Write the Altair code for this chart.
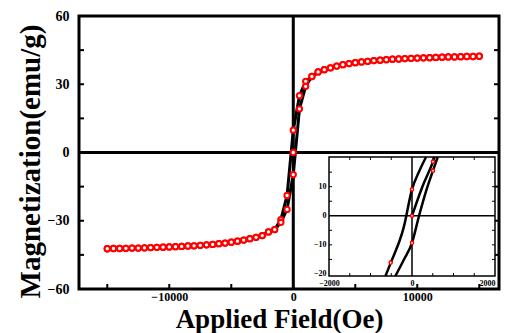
import altair as alt
import pandas as pd

FONT = "Liberation Serif"

# ---------------- main loop data ----------------
H_high_pos = [1500, 2000, 2500, 3000, 3500, 4000, 4500, 5000, 5500, 6000, 6500, 7000,
              7500, 8000, 8500, 9000, 9500, 10000, 10500, 11000, 11500, 12000, 12500,
              13000, 13500, 14000, 14500, 15000]
M_high_pos = [33.4, 35.4, 36.4, 37.2, 38.0, 38.6, 39.1, 39.5, 39.8, 40.1, 40.4, 40.6,
              40.8, 41.0, 41.1, 41.3, 41.4, 41.5, 41.6, 41.7, 41.8, 41.9, 42.0,
              42.0, 42.1, 42.2, 42.2, 42.3]
H_high_neg = [-1500, -2000, -2500, -3000, -3500, -4000, -4500, -5000, -5500, -6000, -6500,
              -7000, -7500, -8000, -8500, -9000, -9500, -10000, -10500, -11000, -11500,
              -12000, -12500, -13000, -13500, -14000, -14500, -15000]
M_high_neg = [-33.9, -34.9, -36.5, -37.3, -37.9, -38.5, -39.0, -39.4, -39.8, -40.1, -40.4,
              -40.6, -40.8, -41.0, -41.1, -41.3, -41.4, -41.5, -41.6, -41.7, -41.8,
              -41.9, -42.0, -42.0, -42.1, -42.2, -42.2, -42.3]
H_desc_core = [1000, 500, 0, -500, -1000]
M_desc_core = [31.3, 25.0, 9.8, -18.9, -29.5]
H_asc_core = [-1000, -500, 0, 500, 1000]
M_asc_core = [-30.7, -25.0, -9.7, 19.2, 29.1]
H_virgin = [0]
M_virgin = [0.0]

# ---------------- inset data ----------------
Hi_desc = [-640, -510, -200, 0, 180, 340]
Mi_desc = [-20.7, -16.1, -4.0, 9.1, 15.5, 20.2]
Hi_asc = [-400, -200, 0, 170, 350, 506, 620]
Mi_asc = [-20.7, -15.2, -9.3, 0.0, 9.0, 15.5, 20.2]
Hi_virgin = [0, 250, 506, 545]
Mi_virgin = [0.0, 10.0, 18.6, 20.2]
Hi_pts = [506, 506, 0, 0, 0, -513]
Mi_pts = [18.6, 15.5, 9.1, 0.0, -9.3, -16.1]

# ticks / labels
x_labels = [-10000, 0, 10000]
x_ticks = [-15000, -10000, -5000, 0, 5000, 10000, 15000]
y_labels = [-60, -30, 0, 30, 60]
y_ticks = [-45, -30, -15, 0, 15, 30, 45]
xi_labels = [-2000, 0, 2000]
yi_labels = [-20, -10, 0, 10]
xi_ticks = [-1500, -1000, -500, 500, 1000, 1500]
yi_ticks = [-15, -10, -5, 5, 10, 15]

X_DOM = [-17280, 16590]
Y_DOM = [-60, 60]
XI_DOM = [-2000, 2000]
YI_DOM = [-20.7, 20.2]

# ---------------- frames ----------------
desc_H = H_high_pos[::-1] + H_desc_core + H_high_neg
desc_M = M_high_pos[::-1] + M_desc_core + M_high_neg
asc_H = H_high_neg[::-1] + H_asc_core + H_high_pos
asc_M = M_high_neg[::-1] + M_asc_core + M_high_pos

line_df = pd.DataFrame({
    "H": desc_H + asc_H,
    "M": desc_M + asc_M,
    "branch": ["desc"] * len(desc_H) + ["asc"] * len(asc_H),
})
pts_df = pd.DataFrame({"H": desc_H + asc_H + H_virgin, "M": desc_M + asc_M + M_virgin})

inset_line_df = pd.DataFrame({
    "H": Hi_desc + Hi_asc + Hi_virgin,
    "M": Mi_desc + Mi_asc + Mi_virgin,
    "branch": ["desc"] * len(Hi_desc) + ["asc"] * len(Hi_asc) + ["virgin"] * len(Hi_virgin),
})
inset_pts_df = pd.DataFrame({"H": Hi_pts, "M": Mi_pts})


def xs():
    return alt.Scale(domain=X_DOM, nice=False, zero=False)


def ys():
    return alt.Scale(domain=Y_DOM, nice=False, zero=False)


def xis():
    return alt.Scale(domain=XI_DOM, range=[250, 416], nice=False, zero=False)


def yis():
    return alt.Scale(domain=YI_DOM, range=[260, 141], nice=False, zero=False)


axis_x = alt.Axis(values=x_labels, format="d", title="Applied Field(Oe)", grid=False,
                  ticks=False, domain=False, labelFont=FONT, labelFontSize=12,
                  labelFontWeight="bold", labelColor="black", labelPadding=2,
                  labelFlush=False, titleFont=FONT, titleFontSize=27, titleFontWeight="bold",
                  titleColor="black", titleX=200, titleY=38, titleBaseline="alphabetic")
axis_y = alt.Axis(values=y_labels, format="d", title="Magnetization(emu/g)", grid=False,
                  ticks=False, domain=False, labelFont=FONT, labelFontSize=14,
                  labelFontWeight="bold", labelColor="black", labelPadding=10,
                  titleFont=FONT, titleFontSize=29, titleFontWeight="bold",
                  titleColor="black", titleX=-40, titleY=145, titleAngle=270,
                  titleBaseline="alphabetic")
axis_xi = alt.Axis(orient="bottom", offset=-13, values=xi_labels, format="d", grid=False,
                   ticks=False, domain=False, labelFont=FONT, labelFontSize=8,
                   labelFontWeight="bold", labelColor="black", labelPadding=3,
                   labelFlush=False, title=None, zindex=1,
                   labelAlign={"condition": {"test": "datum.value >= 2000", "value": "right"},
                               "value": "center"})
axis_yi = alt.Axis(orient="left", offset=-250, values=yi_labels, format="d", grid=False,
                   ticks=False, domain=False, labelFont=FONT, labelFontSize=8,
                   labelFontWeight="bold", labelColor="black", labelPadding=3,
                   labelFlush=False, title=None, zindex=1)

# ---------------- main layers ----------------
main_lines = alt.Chart(line_df).mark_line(color="black", strokeWidth=3).encode(
    x=alt.X("H:Q", scale=xs(), axis=axis_x),
    y=alt.Y("M:Q", scale=ys(), axis=axis_y),
    detail="branch:N",
)
zero_df = pd.DataFrame({"v": [0]})
vrule = alt.Chart(zero_df).mark_rule(color="black", strokeWidth=3).encode(
    x=alt.X("v:Q", scale=xs(), axis=None))
hrule = alt.Chart(zero_df).mark_rule(color="black", strokeWidth=3).encode(
    y=alt.Y("v:Q", scale=ys(), axis=None))
main_pts = alt.Chart(pts_df).mark_point(shape="circle", filled=True, fill="white",
                                        stroke="#ff0000", size=28, strokeWidth=2,
                                        opacity=1, fillOpacity=1).encode(
    x=alt.X("H:Q", scale=xs(), axis=None),
    y=alt.Y("M:Q", scale=ys(), axis=None),
)
yt_df = pd.DataFrame({"t": y_ticks, "lo": X_DOM[0], "hi": X_DOM[1]})
xt_df = pd.DataFrame({"t": x_ticks, "lo": Y_DOM[0]})
ytick_l = alt.Chart(yt_df).mark_tick(orient="horizontal", size=5, thickness=2, xOffset=2.5,
                                     color="black", opacity=1).encode(
    y=alt.Y("t:Q", scale=ys(), axis=None), x=alt.X("lo:Q", scale=xs(), axis=None))
ytick_r = alt.Chart(yt_df).mark_tick(orient="horizontal", size=5, thickness=2, xOffset=-2.5,
                                     color="black", opacity=1).encode(
    y=alt.Y("t:Q", scale=ys(), axis=None), x=alt.X("hi:Q", scale=xs(), axis=None))
xtick_b = alt.Chart(xt_df).mark_tick(orient="vertical", size=5, thickness=2, yOffset=-2.5,
                                     color="black", opacity=1).encode(
    x=alt.X("t:Q", scale=xs(), axis=None), y=alt.Y("lo:Q", scale=ys(), axis=None))

# ---------------- inset layers ----------------
box_df = pd.DataFrame({"x0": [XI_DOM[0]], "x1": [XI_DOM[1]], "y0": [YI_DOM[0]],
                       "y1": [YI_DOM[1]], "z": [0]})
box = alt.Chart(box_df).mark_rect(fill="white", stroke="black", strokeWidth=1.5).encode(
    x=alt.X("x0:Q", scale=xis(), axis=axis_xi), x2="x1",
    y=alt.Y("y0:Q", scale=yis(), axis=axis_yi), y2="y1",
)
ivrule = alt.Chart(box_df).mark_rule(color="black", strokeWidth=1.5).encode(
    x=alt.X("z:Q", scale=xis(), axis=None),
    y=alt.Y("y0:Q", scale=yis(), axis=None), y2="y1")
ihrule = alt.Chart(box_df).mark_rule(color="black", strokeWidth=1.5).encode(
    y=alt.Y("z:Q", scale=yis(), axis=None),
    x=alt.X("x0:Q", scale=xis(), axis=None), x2="x1")
inset_lines = alt.Chart(inset_line_df).mark_line(color="black", strokeWidth=2.5,
                                                 interpolate="monotone").encode(
    x=alt.X("H:Q", scale=xis(), axis=None),
    y=alt.Y("M:Q", scale=yis(), axis=None),
    detail="branch:N",
)
inset_pts = alt.Chart(inset_pts_df).mark_point(shape="circle", filled=True, fill="white",
                                               stroke="#ff0000", size=10, strokeWidth=1.5,
                                               opacity=1, fillOpacity=1).encode(
    x=alt.X("H:Q", scale=xis(), axis=None),
    y=alt.Y("M:Q", scale=yis(), axis=None),
)
yit_df = pd.DataFrame({"t": yi_ticks, "lo": XI_DOM[0], "hi": XI_DOM[1]})
xit_df = pd.DataFrame({"t": xi_ticks, "lo": YI_DOM[0], "hi": YI_DOM[1]})
yitick_l = alt.Chart(yit_df).mark_tick(orient="horizontal", size=3, thickness=1, xOffset=1.5,
                                       color="black", opacity=1).encode(
    y=alt.Y("t:Q", scale=yis(), axis=None), x=alt.X("lo:Q", scale=xis(), axis=None))
yitick_r = alt.Chart(yit_df).mark_tick(orient="horizontal", size=3, thickness=1, xOffset=-1.5,
                                       color="black", opacity=1).encode(
    y=alt.Y("t:Q", scale=yis(), axis=None), x=alt.X("hi:Q", scale=xis(), axis=None))
xitick_b = alt.Chart(xit_df).mark_tick(orient="vertical", size=3, thickness=1, yOffset=-1.5,
                                       color="black", opacity=1).encode(
    x=alt.X("t:Q", scale=xis(), axis=None), y=alt.Y("lo:Q", scale=yis(), axis=None))
xitick_t = alt.Chart(xit_df).mark_tick(orient="vertical", size=3, thickness=1, yOffset=1.5,
                                       color="black", opacity=1).encode(
    x=alt.X("t:Q", scale=xis(), axis=None), y=alt.Y("hi:Q", scale=yis(), axis=None))

chart = alt.layer(
    main_lines, vrule, hrule, main_pts, ytick_l, ytick_r, xtick_b,
    box, yitick_l, yitick_r, xitick_b, xitick_t, ivrule, ihrule, inset_lines, inset_pts,
).resolve_scale(x="independent", y="independent").properties(
    width=420, height=273,
    padding={"left": 71, "top": 8, "right": 2, "bottom": 45},
    autosize=alt.AutoSizeParams(type="none"),
    background="white",
).configure_view(stroke="black", strokeWidth=3)

chart.save("out.html", embed_options={"renderer": "svg", "actions": False})
